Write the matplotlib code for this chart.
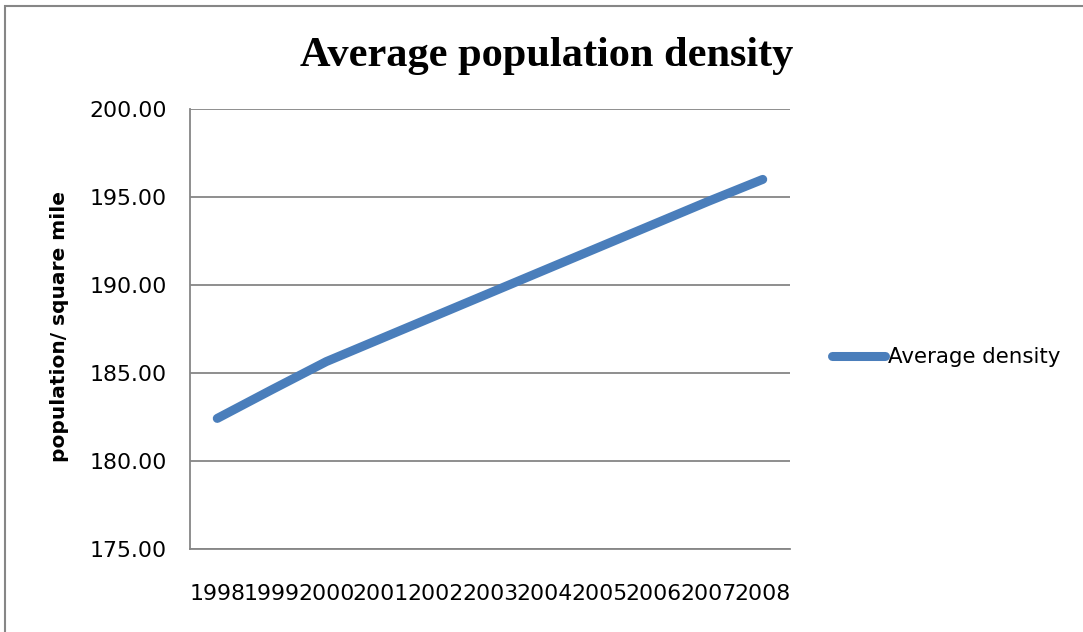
import matplotlib.pyplot as plt
from matplotlib.patches import Rectangle

years = ['1998', '1999', '2000', '2001', '2002', '2003',
         '2004', '2005', '2006', '2007', '2008']
density = [182.42, 184.05, 185.65, 186.95, 188.25, 189.55,
           190.85, 192.15, 193.45, 194.75, 196.0]
y_ticks = [175, 180, 185, 190, 195, 200]

blue = '#4A7EBB'
grid_gray = '#868686'

fig = plt.figure(figsize=(10.83, 6.32), dpi=100)
ax = fig.add_axes([190 / 1083, 1 - 549 / 632, 600 / 1083, 440 / 632])

x = list(range(len(years)))
ax.plot(x, density, color=blue, lw=6.5, solid_capstyle='round',
        solid_joinstyle='round', label='Average density', zorder=3)

ax.set_xlim(-0.5, len(years) - 0.5)
ax.set_ylim(175, 200)
ax.set_yticks(y_ticks)
ax.set_yticklabels(['%.2f' % v for v in y_ticks])
ax.set_xticks(x)
ax.set_xticklabels(years)
ax.tick_params(axis='both', length=0, labelsize=15.8, colors='black')
ax.tick_params(axis='y', pad=16.5)
ax.tick_params(axis='x', pad=25)

ax.grid(axis='y', color=grid_gray, lw=1.3, zorder=1)
for side in ['top', 'right']:
    ax.spines[side].set_visible(False)
for side in ['left', 'bottom']:
    ax.spines[side].set_color(grid_gray)
    ax.spines[side].set_linewidth(1.3)

ax.set_ylabel('population/ square mile', fontsize=14.5, fontweight='bold')
ax.yaxis.set_label_coords(69 / 1083, 1 - 327 / 632, transform=fig.transFigure)

fig.text(0.505, 1 - 56 / 632, 'Average population density',
         ha='center', va='center', fontsize=30.5, fontweight='bold',
         family='Liberation Serif')

ax.legend(loc='center left', bbox_to_anchor=(832 / 1083, 1 - 357 / 632),
          bbox_transform=fig.transFigure, frameon=False, fontsize=15.4,
          handlelength=2.5, handletextpad=0.1, borderpad=0, borderaxespad=0)

# outer chart frame, open past the right and bottom edges
frame = Rectangle((4.5, -100), 1200, 632 - 6 + 100, transform=None,
                  fill=False, edgecolor=grid_gray, lw=1.5)
fig.patches.append(frame)

fig.savefig('out.png', dpi=100)
